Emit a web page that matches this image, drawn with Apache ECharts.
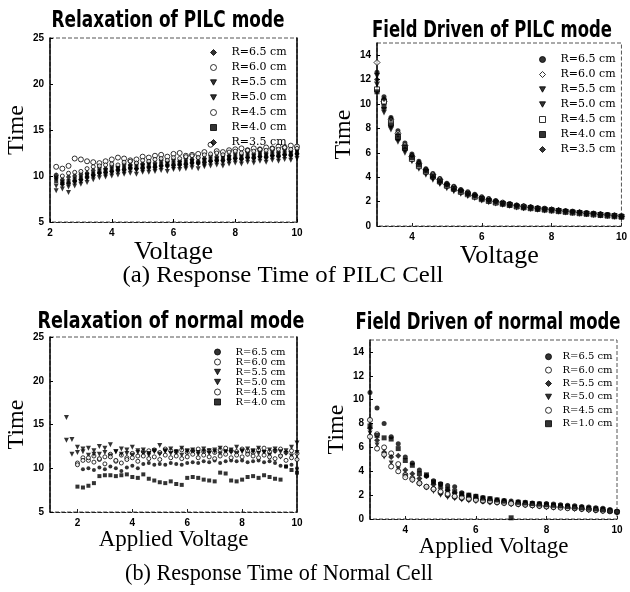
<!DOCTYPE html>
<html><head><meta charset="utf-8">
<script src="https://cdn.jsdelivr.net/npm/echarts@6/dist/echarts.min.js"></script>
<style>html,body{margin:0;padding:0;background:#fff}#c{width:630px;height:592px}</style>
</head><body><div id="c"></div>
<script>
// ---------- data ----------
const pilcLabels = ['R=6.5 cm','R=6.0 cm','R=5.5 cm','R=5.0 cm','R=4.5 cm','R=4.0 cm','R=3.5 cm'];
const normRelaxLabels = ['R=6.5 cm','R=6.0 cm','R=5.5 cm','R=5.0 cm','R=4.5 cm','R=4.0 cm'];
const normFieldLabels = ['R=6.5 cm','R=6.0 cm','R=5.5 cm','R=5.0 cm','R=4.5 cm','R=1.0 cm'];
const panelTitles = ['Relaxation of PILC mode','Field Driven of PILC mode','Relaxation of normal mode','Field Driven of normal mode'];
const captions = ['(a) Response Time of PILC Cell','(b) Response Time of Normal Cell'];

const xTicksPilcField = [4,6,8,10];
const xTicksNormRelax = [2,4,6,8,10];
const yTicksField = [0,2,4,6,8,10,12,14];

// (a) relaxation of PILC mode
const relaxPilcX = [2.2,2.4,2.6,2.8,3.0,3.2,3.4,3.6,3.8,4.0,4.2,4.4,4.6,4.8,5.0,5.2,5.4,5.6,5.8,6.0,6.2,6.4,6.6,6.8,7.0,7.2,7.4,7.6,7.8,8.0,8.2,8.4,8.6,8.8,9.0,9.2,9.4,9.6,9.8,10.0];
const relaxPilcR65 = [9.8,9.6,9.9,10.0,10.2,10.3,10.6,10.9,10.8,11.1,11.0,11.3,11.2,11.4,11.3,11.5,11.4,11.7,11.6,11.8,11.6,11.9,11.8,12.0,11.9,12.2,12.1,12.3,12.2,12.5,12.3,12.6,12.4,12.7,12.5,12.8,12.6,12.9,12.7,12.9];
const relaxPilcR60 = [11.0,10.8,11.1,11.9,11.8,11.6,11.5,11.4,11.6,11.8,12.0,11.9,11.7,11.8,12.1,12.0,12.2,12.3,12.1,12.4,12.5,12.2,12.3,12.4,12.6,13.4,12.7,12.6,12.8,12.9,13.0,12.8,13.0,12.9,13.1,13.0,13.2,13.1,13.3,13.2];
const relaxPilcR55 = [8.4,8.6,8.2,8.9,9.1,9.3,9.6,9.8,9.9,10.0,10.1,10.2,10.3,10.2,10.4,10.4,10.5,10.6,10.5,10.7,10.7,10.8,10.9,10.8,11.0,11.1,11.2,11.1,11.3,11.4,11.3,11.5,11.4,11.6,11.5,11.7,11.6,11.8,11.7,11.9];
const relaxPilcR50 = [8.9,9.1,8.8,9.3,9.4,9.7,9.9,10.2,10.1,10.3,10.5,10.4,10.7,10.6,10.6,10.8,10.7,10.9,11.0,10.9,11.1,11.0,11.2,11.3,11.2,11.4,11.5,11.4,11.6,11.7,11.6,11.8,11.7,11.9,11.8,12.0,11.9,12.1,12.0,12.2];
const relaxPilcR45 = [10.1,10.0,10.3,10.4,10.5,10.8,11.0,11.1,11.2,11.3,11.2,11.5,11.6,11.4,11.7,11.6,11.8,11.9,11.7,12.0,11.9,12.1,12.2,12.0,12.3,12.4,12.5,12.3,12.6,12.7,12.5,12.8,12.7,12.9,12.8,13.0,12.9,13.1,12.9,13.0];
const relaxPilcR40 = [9.5,9.3,9.4,9.6,9.8,10.1,10.2,10.5,10.6,10.7,10.8,10.9,11.0,11.0,11.1,11.2,11.1,11.3,11.3,11.4,11.4,11.5,11.6,11.5,11.7,11.8,11.8,11.9,12.0,12.1,12.0,12.2,12.1,12.3,12.2,12.4,12.3,12.5,12.4,12.6];
const relaxPilcR35 = [10.0,9.1,9.2,9.4,9.6,9.8,10.1,10.3,10.4,10.5,10.6,10.7,10.8,10.8,10.9,10.9,11.0,11.1,11.1,11.2,11.2,11.3,11.4,11.4,11.5,11.6,11.7,11.7,11.8,11.9,11.9,12.0,12.0,12.1,12.1,12.2,12.2,12.3,12.3,12.4];

// (a) field driven of PILC mode
const fieldPilcX = [3.0,3.2,3.4,3.6,3.8,4.0,4.2,4.4,4.6,4.8,5.0,5.2,5.4,5.6,5.8,6.0,6.2,6.4,6.6,6.8,7.0,7.2,7.4,7.6,7.8,8.0,8.2,8.4,8.6,8.8,9.0,9.2,9.4,9.6,9.8,10.0];
const fieldPilcR65 = [12.6,10.6,8.9,7.8,6.8,5.9,5.3,4.7,4.3,3.9,3.5,3.25,3.0,2.8,2.6,2.4,2.25,2.1,1.95,1.85,1.72,1.65,1.58,1.5,1.45,1.38,1.32,1.26,1.2,1.15,1.1,1.05,1.0,0.95,0.9,0.85];
const fieldPilcR60 = [13.4,10.2,8.7,7.6,6.6,5.7,5.1,4.6,4.2,3.8,3.4,3.15,2.9,2.7,2.5,2.3,2.15,2.0,1.9,1.8,1.66,1.6,1.52,1.46,1.4,1.34,1.28,1.22,1.16,1.1,1.05,1.0,0.95,0.9,0.85,0.8];
const fieldPilcR55 = [12.3,9.5,8.1,7.1,6.2,5.4,4.8,4.3,3.9,3.5,3.2,2.95,2.7,2.5,2.35,2.15,2.0,1.88,1.78,1.68,1.56,1.5,1.43,1.37,1.31,1.25,1.2,1.14,1.08,1.03,0.98,0.93,0.88,0.83,0.78,0.72];
const fieldPilcR50 = [11.6,9.3,7.9,6.9,6.0,5.3,4.7,4.2,3.8,3.45,3.1,2.85,2.65,2.45,2.3,2.1,1.95,1.85,1.75,1.65,1.52,1.46,1.4,1.34,1.28,1.22,1.17,1.11,1.06,1.01,0.96,0.91,0.86,0.81,0.76,0.7];
const fieldPilcR45 = [11.2,10.2,8.4,7.3,6.4,5.5,4.9,4.45,4.05,3.65,3.3,3.05,2.8,2.6,2.4,2.2,2.05,1.92,1.82,1.72,1.6,1.53,1.46,1.4,1.34,1.28,1.22,1.16,1.1,1.05,1.0,0.95,0.9,0.85,0.8,0.76];
const fieldPilcR40 = [11.0,9.8,8.3,7.2,6.5,5.6,5.0,4.5,4.1,3.7,3.35,3.1,2.85,2.65,2.45,2.25,2.1,1.95,1.85,1.75,1.62,1.55,1.48,1.42,1.36,1.3,1.24,1.18,1.12,1.07,1.02,0.97,0.92,0.87,0.82,0.77];
const fieldPilcR35 = [12.0,10.4,8.8,7.5,6.3,5.8,5.2,4.6,4.0,3.6,3.4,3.0,2.9,2.6,2.5,2.2,2.1,2.0,1.8,1.7,1.65,1.5,1.5,1.4,1.35,1.3,1.25,1.2,1.15,1.1,1.0,1.0,0.9,0.9,0.8,0.75];

// (b) relaxation of normal mode
const relaxNormX = [1.6,1.8,2.0,2.2,2.4,2.6,2.8,3.0,3.2,3.4,3.6,3.8,4.0,4.2,4.4,4.6,4.8,5.0,5.2,5.4,5.6,5.8,6.0,6.2,6.4,6.6,6.8,7.0,7.2,7.4,7.6,7.8,8.0,8.2,8.4,8.6,8.8,9.0,9.2,9.4,9.6,9.8,10.0];
const relaxNormR65 = [null,null,null,9.9,10.0,9.8,10.1,9.9,10.2,10.0,9.7,10.1,10.3,10.0,10.5,10.6,10.4,10.5,10.4,10.6,10.5,10.4,10.6,10.7,10.6,10.8,10.7,10.9,10.6,10.8,10.9,10.8,10.9,10.7,10.8,10.9,10.7,10.8,10.6,10.3,10.2,10.4,10.0];
const relaxNormR60 = [null,null,10.6,11.2,10.9,11.4,11.0,11.3,11.6,10.8,11.5,11.2,11.7,11.4,11.9,12.0,12.1,11.8,12.2,12.0,11.9,12.1,11.8,12.0,12.2,11.9,12.0,11.8,12.1,12.3,12.0,11.9,12.2,12.0,11.8,12.1,12.3,11.9,12.0,12.2,11.8,12.0,11.7];
const relaxNormR55 = [13.2,11.6,11.8,12.2,11.5,12.0,11.6,12.3,11.4,11.9,11.6,12.1,11.5,12.0,11.7,11.5,11.9,11.6,12.0,11.7,11.9,11.5,12.0,11.8,11.6,11.9,11.7,12.1,11.6,11.9,11.8,11.7,12.0,11.6,11.9,11.7,11.8,11.5,11.9,11.3,11.7,11.4,11.8];
const relaxNormR50 = [15.8,13.3,12.4,11.9,12.3,11.6,12.5,11.8,12.7,11.9,12.2,11.7,12.4,11.8,12.1,11.7,12.0,12.6,11.9,12.2,11.8,12.3,11.9,12.1,11.8,12.2,12.0,11.9,12.3,11.8,12.1,12.4,11.9,12.2,12.0,12.3,11.8,12.1,12.2,11.9,12.0,12.4,12.9];
const relaxNormR45 = [null,null,10.4,10.9,11.2,10.7,11.1,10.5,11.3,10.9,10.6,11.0,11.2,10.8,11.4,11.1,11.3,11.0,11.5,11.2,11.4,11.1,11.3,11.6,11.2,11.5,11.3,11.1,11.4,11.6,11.2,11.5,11.3,11.6,11.4,11.2,11.5,11.3,11.1,11.4,10.9,11.2,11.0];
const relaxNormR40 = [null,null,7.9,7.8,8.0,8.3,9.1,9.2,9.2,9.1,9.2,9.3,9.0,8.9,9.3,8.8,8.6,8.4,8.3,8.5,8.2,8.1,8.9,9.0,8.9,8.7,8.6,8.5,9.5,9.4,8.6,8.5,8.7,9.0,9.1,8.9,9.2,9.0,8.8,8.7,10.2,9.8,9.5];

// (b) field driven of normal mode
const fieldNormX = [3.0,3.2,3.4,3.6,3.8,4.0,4.2,4.4,4.6,4.8,5.0,5.2,5.4,5.6,5.8,6.0,6.2,6.4,6.6,6.8,7.0,7.2,7.4,7.6,7.8,8.0,8.2,8.4,8.6,8.8,9.0,9.2,9.4,9.6,9.8,10.0];
const fieldNormR65 = [10.6,9.3,8.0,6.9,6.3,5.2,4.7,4.1,3.6,3.2,2.95,2.8,2.7,2.2,2.0,1.9,1.8,1.7,1.6,1.55,1.5,1.45,1.4,1.35,1.3,1.3,1.25,1.2,1.15,1.1,1.05,1.0,0.95,0.9,0.8,0.65];
const fieldNormR60 = [8.3,7.1,6.0,5.5,4.6,3.7,3.4,3.0,2.7,2.5,2.2,2.0,1.85,1.75,1.65,1.6,1.5,1.45,1.4,1.35,1.3,1.25,1.2,1.15,1.1,1.05,1.0,1.0,0.95,0.9,0.85,0.8,0.75,0.7,0.65,0.6];
const fieldNormR55 = [7.6,6.6,5.6,5.2,5.3,4.1,3.8,3.4,3.6,2.9,2.6,2.4,2.2,2.0,1.85,1.75,1.65,1.6,1.55,1.5,1.4,1.35,1.3,1.25,1.2,1.15,1.1,1.05,1.0,0.95,0.9,0.85,0.8,0.75,0.7,0.6];
const fieldNormR50 = [7.2,6.2,5.2,4.7,4.2,3.6,3.2,2.9,2.6,2.3,2.0,1.8,1.7,1.6,1.5,1.45,1.4,1.35,1.3,1.25,1.2,1.15,1.1,1.05,1.0,0.95,0.9,0.9,0.85,0.8,0.75,0.7,0.65,0.6,0.6,0.55];
const fieldNormR45 = [6.9,5.9,5.4,4.4,4.0,3.5,3.3,3.0,2.7,2.5,2.3,2.1,1.9,1.8,1.7,1.6,1.55,1.5,1.4,1.35,1.3,1.25,1.2,1.15,1.1,1.05,1.0,0.95,0.9,0.9,0.85,0.8,0.75,0.7,0.65,0.6];
const fieldNormR40 = [7.8,7.0,6.8,6.7,5.9,4.9,4.5,3.8,3.7,3.1,2.9,2.5,2.3,2.1,2.0,1.9,1.75,1.7,1.6,1.5,0.1,1.4,1.35,1.3,1.25,1.2,1.15,1.1,1.05,1.0,0.95,0.9,0.85,0.8,0.7,0.6];

// ---------- chart ----------
const DOWN_TRI = 'path://M0,0L10,0L5,9Z';
function pts(xs, ys){ const o=[]; for(let i=0;i<xs.length;i++){ if(ys[i]!=null) o.push([xs[i],ys[i]]); } return o; }
const labelMap = {};
const iconMap = {};
const series = [];
function addSeries(id, label, grid, xs, ys, symbol, opts){
  opts = opts || {};
  labelMap[id] = label;
  if (opts.rot === 180 && symbol === 'triangle') iconMap[id] = DOWN_TRI;
  series.push({
    type:'scatter', name:id, xAxisIndex:grid, yAxisIndex:grid,
    data: pts(xs, ys), symbol: symbol, symbolRotate: opts.rot || 0,
    symbolSize: opts.size || 5,
    itemStyle: opts.open ? {color:'#fff', borderColor:'#000', borderWidth:1} : {color:'#000', borderColor:'#000', borderWidth:0},
    emphasis:{disabled:true}, silent:true
  });
  return id;
}
const L1 = [
  addSeries('a1', pilcLabels[0], 0, relaxPilcX, relaxPilcR65, 'diamond', {size:[5,7]}),
  addSeries('a2', pilcLabels[1], 0, relaxPilcX, relaxPilcR60, 'circle', {open:true}),
  addSeries('a3', pilcLabels[2], 0, relaxPilcX, relaxPilcR55, 'triangle', {rot:180}),
  addSeries('a4', pilcLabels[3], 0, relaxPilcX, relaxPilcR50, 'triangle', {rot:180}),
  addSeries('a5', pilcLabels[4], 0, relaxPilcX, relaxPilcR45, 'circle', {open:true, size:4}),
  addSeries('a6', pilcLabels[5], 0, relaxPilcX, relaxPilcR40, 'rect', {size:[4,5]}),
  addSeries('a7', pilcLabels[6], 0, relaxPilcX, relaxPilcR35, 'diamond', {size:[5,7]})
];
const L2 = [
  addSeries('b1', pilcLabels[0], 1, fieldPilcX, fieldPilcR65, 'circle'),
  addSeries('b2', pilcLabels[1], 1, fieldPilcX, fieldPilcR60, 'diamond', {open:true, size:6}),
  addSeries('b3', pilcLabels[2], 1, fieldPilcX, fieldPilcR55, 'triangle', {rot:180, size:6}),
  addSeries('b4', pilcLabels[3], 1, fieldPilcX, fieldPilcR50, 'triangle', {rot:180, size:6}),
  addSeries('b5', pilcLabels[4], 1, fieldPilcX, fieldPilcR45, 'rect', {open:true}),
  addSeries('b6', pilcLabels[5], 1, fieldPilcX, fieldPilcR40, 'rect', {size:5}),
  addSeries('b7', pilcLabels[6], 1, fieldPilcX, fieldPilcR35, 'diamond', {size:6})
];
const L3 = [
  addSeries('c1', normRelaxLabels[0], 2, relaxNormX, relaxNormR65, 'circle', {size:4}),
  addSeries('c2', normRelaxLabels[1], 2, relaxNormX, relaxNormR60, 'circle', {open:true, size:4}),
  addSeries('c3', normRelaxLabels[2], 2, relaxNormX, relaxNormR55, 'triangle', {rot:180, size:5}),
  addSeries('c4', normRelaxLabels[3], 2, relaxNormX, relaxNormR50, 'triangle', {rot:180, size:5}),
  addSeries('c5', normRelaxLabels[4], 2, relaxNormX, relaxNormR45, 'circle', {open:true, size:4}),
  addSeries('c6', normRelaxLabels[5], 2, relaxNormX, relaxNormR40, 'rect', {size:4})
];
const L4 = [
  addSeries('d1', normFieldLabels[0], 3, fieldNormX, fieldNormR65, 'circle', {size:5}),
  addSeries('d2', normFieldLabels[1], 3, fieldNormX, fieldNormR60, 'circle', {open:true, size:5}),
  addSeries('d3', normFieldLabels[2], 3, fieldNormX, fieldNormR55, 'diamond', {size:6}),
  addSeries('d4', normFieldLabels[3], 3, fieldNormX, fieldNormR50, 'triangle', {rot:180, size:5}),
  addSeries('d5', normFieldLabels[4], 3, fieldNormX, fieldNormR45, 'circle', {open:true, size:5}),
  addSeries('d6', normFieldLabels[5], 3, fieldNormX, fieldNormR40, 'rect', {size:5})
];

function legend(names, left, top, lh, fs, pad){
  return {data:names.map(n => iconMap[n] ? {name:n, icon:iconMap[n]} : {name:n}),
    orient:'vertical', left:left, top:top, padding:0, itemGap:0,
    itemWidth:6, itemHeight:6, selectedMode:false, symbolRotate:0,
    itemStyle:{borderWidth:1, borderColor:'#000'},
    formatter: n => labelMap[n],
    textStyle:{fontFamily:'DejaVu Serif', fontSize:fs, color:'#000', lineHeight:lh, padding:[0,0,0,pad]}};
}
const tickFont = {fontFamily:'Liberation Sans, sans-serif', fontWeight:'bold', fontSize:10, color:'#000'};
const nameFont = (fs) => ({fontFamily:'Liberation Serif, serif', fontSize:fs, color:'#000'});

// condensed bold headings / captions, width-fitted text
const mctx = document.createElement('canvas').getContext('2d');
function fitText(text, cx, cy, font, targetW){
  mctx.font = font;
  const w = mctx.measureText(text).width;
  return {type:'text', x:cx, y:cy, scaleX: targetW / w, silent:true,
    style:{text:text, font:font, fill:'#000', align:'center', verticalAlign:'middle', textAlign:'center', textVerticalAlign:'middle'}};
}
const headFont = 'bold 23px "DejaVu Sans"';
const capFontStr = '23px "Liberation Serif"';

function xAx(grid, min, max, name, gap, fs, extra){
  return Object.assign({gridIndex:grid, type:'value', min:min, max:max, name:name,
    nameLocation:'middle', nameGap:gap, nameTextStyle:nameFont(fs),
    splitLine:{show:false},
    axisLine:{show:true, lineStyle:{color:'#222', width:1, type:'dashed'}},
    axisTick:{inside:true, length:3, lineStyle:{color:'#000'}},
    axisLabel:Object.assign({margin:6}, tickFont)}, extra||{});
}
function yAx(grid, min, max, name, gap, extra){
  return Object.assign({gridIndex:grid, type:'value', min:min, max:max, name:name,
    nameLocation:'middle', nameGap:gap, nameRotate:90, nameTextStyle:nameFont(24),
    splitLine:{show:false},
    axisLine:{show:true, lineStyle:{color:'#000', width:1.5}},
    axisTick:{inside:true, length:3, lineStyle:{color:'#000'}},
    axisLabel:Object.assign({margin:6}, tickFont)}, extra||{});
}
function rightAx(grid, min, max){
  return {gridIndex:grid, type:'value', min:min, max:max, position:'right',
    axisLine:{show:true, lineStyle:{color:'#000', width:1.5}}, axisTick:{show:false},
    axisLabel:{show:false}, splitLine:{show:false}};
}

const option = {
  backgroundColor:'#fff',
  animation:false,
  graphic:[
    fitText(panelTitles[0], 168, 21.5, headFont, 233),
    fitText(panelTitles[1], 492, 31, headFont, 240),
    fitText(panelTitles[2], 171, 322, headFont, 267),
    fitText(panelTitles[3], 488, 323.5, headFont, 265),
    fitText(captions[0], 283, 276, capFontStr, 321),
    fitText(captions[1], 279, 574, capFontStr, 308)
  ],
  legend:[
    legend(L1, 210, 45, 15, 11, 10),
    legend(L2, 539, 52, 15, 11, 10),
    legend(L3, 214, 347, 9.5, 10, 10),
    legend(L4, 545, 350, 13.4, 10, 6)
  ],
  grid:[
    {left:50, top:38, width:247, height:184, show:true, borderColor:'#555', borderWidth:1, borderType:'dashed'},
    {left:377, top:43, width:246, height:183, show:true, borderColor:'#555', borderWidth:1, borderType:'dashed'},
    {left:50, top:337, width:247, height:175, show:true, borderColor:'#555', borderWidth:1, borderType:'dashed'},
    {left:370, top:340, width:247, height:179, show:true, borderColor:'#555', borderWidth:1, borderType:'dashed'}
  ],
  xAxis:[
    xAx(0, 2, 10, 'Voltage', 11, 26, {interval:2}),
    xAx(1, 3, 10, 'Voltage', 12, 26, {axisLabel:Object.assign({margin:6, customValues:xTicksPilcField}, tickFont), axisTick:{inside:true, length:3, customValues:xTicksPilcField}}),
    xAx(2, 1, 10, 'Applied Voltage', 10, 23, {axisLabel:Object.assign({margin:6, customValues:xTicksNormRelax}, tickFont), axisTick:{inside:true, length:3, customValues:xTicksNormRelax}}),
    xAx(3, 3, 10, 'Applied Voltage', 12, 23, {axisLabel:Object.assign({margin:6, customValues:xTicksPilcField}, tickFont), axisTick:{inside:true, length:3, customValues:xTicksPilcField}})
  ],
  yAxis:[
    yAx(0, 5, 25, 'Time', 17.5, {interval:5}),
    yAx(1, 0, 15, 'Time', 18, {axisLabel:Object.assign({margin:6, customValues:yTicksField}, tickFont), axisTick:{inside:true, length:3, customValues:yTicksField}}),
    yAx(2, 5, 25, 'Time', 18.5, {interval:5}),
    yAx(3, 0, 15, 'Time', 9, {axisLabel:Object.assign({margin:6, customValues:yTicksField}, tickFont), axisTick:{inside:true, length:3, customValues:yTicksField}}),
    rightAx(0, 5, 25),
    rightAx(2, 5, 25)
  ],
  series: series
};
const chart = echarts.init(document.getElementById('c'));
chart.setOption(option);
</script>
</body></html>
